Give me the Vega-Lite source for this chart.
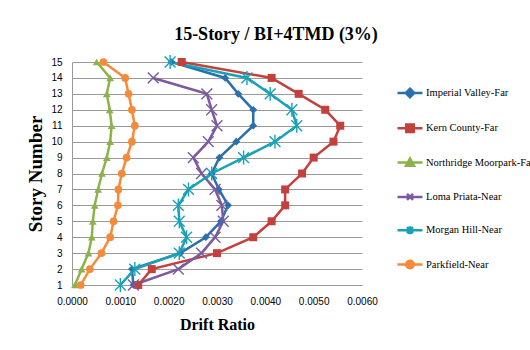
{
  "$schema": "https://vega.github.io/schema/vega-lite/v6.json",
  "width": 290,
  "height": 223,
  "autosize": "none",
  "padding": {"left": 72, "top": 62, "right": 168, "bottom": 65},
  "background": "white",
  "config": {
    "view": {"stroke": null},
    "legend": {
      "labelFont": "Liberation Serif",
      "labelFontSize": 10.5,
      "labelColor": "#000000",
      "labelLimit": 200,
      "symbolSize": 625,
      "symbolStrokeWidth": 2.5,
      "symbolOpacity": 1,
      "rowPadding": 11.3,
      "labelOffset": 2,
      "padding": 0
    }
  },
  "title": {
    "text": "15-Story / BI+4TMD (3%)",
    "font": "Liberation Serif",
    "fontSize": 18,
    "fontWeight": "bold",
    "color": "#000000",
    "anchor": "middle",
    "dx": 59,
    "offset": 8
  },
  "data": {
    "values": [
      {"series": "Imperial Valley-Far", "story": 1, "drift": 0.00127},
      {"series": "Imperial Valley-Far", "story": 2, "drift": 0.00124},
      {"series": "Imperial Valley-Far", "story": 3, "drift": 0.00224},
      {"series": "Imperial Valley-Far", "story": 4, "drift": 0.00277},
      {"series": "Imperial Valley-Far", "story": 5, "drift": 0.00308},
      {"series": "Imperial Valley-Far", "story": 6, "drift": 0.00323},
      {"series": "Imperial Valley-Far", "story": 7, "drift": 0.00304},
      {"series": "Imperial Valley-Far", "story": 8, "drift": 0.00289},
      {"series": "Imperial Valley-Far", "story": 9, "drift": 0.00305},
      {"series": "Imperial Valley-Far", "story": 10, "drift": 0.0034},
      {"series": "Imperial Valley-Far", "story": 11, "drift": 0.00375},
      {"series": "Imperial Valley-Far", "story": 12, "drift": 0.00375},
      {"series": "Imperial Valley-Far", "story": 13, "drift": 0.00344},
      {"series": "Imperial Valley-Far", "story": 14, "drift": 0.00317},
      {"series": "Imperial Valley-Far", "story": 15, "drift": 0.00206},
      {"series": "Kern County-Far", "story": 1, "drift": 0.00137},
      {"series": "Kern County-Far", "story": 2, "drift": 0.00165},
      {"series": "Kern County-Far", "story": 3, "drift": 0.003},
      {"series": "Kern County-Far", "story": 4, "drift": 0.00375},
      {"series": "Kern County-Far", "story": 5, "drift": 0.00413},
      {"series": "Kern County-Far", "story": 6, "drift": 0.00441},
      {"series": "Kern County-Far", "story": 7, "drift": 0.00441},
      {"series": "Kern County-Far", "story": 8, "drift": 0.00476},
      {"series": "Kern County-Far", "story": 9, "drift": 0.005},
      {"series": "Kern County-Far", "story": 10, "drift": 0.00541},
      {"series": "Kern County-Far", "story": 11, "drift": 0.00555},
      {"series": "Kern County-Far", "story": 12, "drift": 0.00524},
      {"series": "Kern County-Far", "story": 13, "drift": 0.00469},
      {"series": "Kern County-Far", "story": 14, "drift": 0.00413},
      {"series": "Kern County-Far", "story": 15, "drift": 0.00227},
      {"series": "Northridge Moorpark-Far", "story": 1, "drift": 0.00006},
      {"series": "Northridge Moorpark-Far", "story": 2, "drift": 0.0002},
      {"series": "Northridge Moorpark-Far", "story": 3, "drift": 0.00034},
      {"series": "Northridge Moorpark-Far", "story": 4, "drift": 0.00041},
      {"series": "Northridge Moorpark-Far", "story": 5, "drift": 0.00043},
      {"series": "Northridge Moorpark-Far", "story": 6, "drift": 0.00047},
      {"series": "Northridge Moorpark-Far", "story": 7, "drift": 0.00054},
      {"series": "Northridge Moorpark-Far", "story": 8, "drift": 0.00062},
      {"series": "Northridge Moorpark-Far", "story": 9, "drift": 0.00072},
      {"series": "Northridge Moorpark-Far", "story": 10, "drift": 0.00079},
      {"series": "Northridge Moorpark-Far", "story": 11, "drift": 0.00082},
      {"series": "Northridge Moorpark-Far", "story": 12, "drift": 0.00078},
      {"series": "Northridge Moorpark-Far", "story": 13, "drift": 0.00072},
      {"series": "Northridge Moorpark-Far", "story": 14, "drift": 0.00079},
      {"series": "Northridge Moorpark-Far", "story": 15, "drift": 0.00051},
      {"series": "Loma Priata-Near", "story": 1, "drift": 0.00127},
      {"series": "Loma Priata-Near", "story": 2, "drift": 0.0022},
      {"series": "Loma Priata-Near", "story": 3, "drift": 0.00268},
      {"series": "Loma Priata-Near", "story": 4, "drift": 0.00296},
      {"series": "Loma Priata-Near", "story": 5, "drift": 0.00313},
      {"series": "Loma Priata-Near", "story": 6, "drift": 0.0031},
      {"series": "Loma Priata-Near", "story": 7, "drift": 0.00296},
      {"series": "Loma Priata-Near", "story": 8, "drift": 0.00268},
      {"series": "Loma Priata-Near", "story": 9, "drift": 0.00251},
      {"series": "Loma Priata-Near", "story": 10, "drift": 0.00282},
      {"series": "Loma Priata-Near", "story": 11, "drift": 0.003},
      {"series": "Loma Priata-Near", "story": 12, "drift": 0.00289},
      {"series": "Loma Priata-Near", "story": 13, "drift": 0.00279},
      {"series": "Loma Priata-Near", "story": 14, "drift": 0.00168},
      {"series": "Morgan Hill-Near", "story": 1, "drift": 0.001},
      {"series": "Morgan Hill-Near", "story": 2, "drift": 0.0013},
      {"series": "Morgan Hill-Near", "story": 3, "drift": 0.00222},
      {"series": "Morgan Hill-Near", "story": 4, "drift": 0.00237},
      {"series": "Morgan Hill-Near", "story": 5, "drift": 0.00222},
      {"series": "Morgan Hill-Near", "story": 6, "drift": 0.0022},
      {"series": "Morgan Hill-Near", "story": 7, "drift": 0.00241},
      {"series": "Morgan Hill-Near", "story": 8, "drift": 0.00289},
      {"series": "Morgan Hill-Near", "story": 9, "drift": 0.00355},
      {"series": "Morgan Hill-Near", "story": 10, "drift": 0.0042},
      {"series": "Morgan Hill-Near", "story": 11, "drift": 0.00465},
      {"series": "Morgan Hill-Near", "story": 12, "drift": 0.00455},
      {"series": "Morgan Hill-Near", "story": 13, "drift": 0.0041},
      {"series": "Morgan Hill-Near", "story": 14, "drift": 0.00362},
      {"series": "Morgan Hill-Near", "story": 15, "drift": 0.00203},
      {"series": "Parkfield-Near", "story": 1, "drift": 0.00018},
      {"series": "Parkfield-Near", "story": 2, "drift": 0.00037},
      {"series": "Parkfield-Near", "story": 3, "drift": 0.00061},
      {"series": "Parkfield-Near", "story": 4, "drift": 0.00079},
      {"series": "Parkfield-Near", "story": 5, "drift": 0.00086},
      {"series": "Parkfield-Near", "story": 6, "drift": 0.00095},
      {"series": "Parkfield-Near", "story": 7, "drift": 0.00096},
      {"series": "Parkfield-Near", "story": 8, "drift": 0.00103},
      {"series": "Parkfield-Near", "story": 9, "drift": 0.00113},
      {"series": "Parkfield-Near", "story": 10, "drift": 0.00124},
      {"series": "Parkfield-Near", "story": 11, "drift": 0.0013},
      {"series": "Parkfield-Near", "story": 12, "drift": 0.00124},
      {"series": "Parkfield-Near", "story": 13, "drift": 0.00117},
      {"series": "Parkfield-Near", "story": 14, "drift": 0.0011},
      {"series": "Parkfield-Near", "story": 15, "drift": 0.00065}
    ]
  },
  "encoding": {
    "x": {
      "field": "drift",
      "type": "quantitative",
      "scale": {"domain": [0, 0.006], "nice": false, "zero": true},
      "axis": {
        "title": "Drift Ratio",
        "values": [0, 0.001, 0.002, 0.003, 0.004, 0.005, 0.006],
        "format": ".4f",
        "grid": false,
        "ticks": false,
        "domain": true,
        "domainColor": "#9a9a9a",
        "domainWidth": 1,
        "labelFont": "Liberation Sans",
        "labelFontSize": 10,
        "labelColor": "#000000",
        "labelPadding": 11,
        "labelOverlap": false,
        "labelFlush": false,
        "titleFont": "Liberation Serif",
        "titleFontSize": 16,
        "titleFontWeight": "bold",
        "titleColor": "#000000",
        "titlePadding": 10
      }
    },
    "y": {
      "field": "story",
      "type": "quantitative",
      "scale": {"domain": [1, 15], "nice": false, "zero": false},
      "axis": {
        "title": "Story Number",
        "values": [1, 2, 3, 4, 5, 6, 7, 8, 9, 10, 11, 12, 13, 14, 15],
        "format": "d",
        "grid": true,
        "gridColor": "#9a9a9a",
        "gridWidth": 1,
        "ticks": false,
        "domain": true,
        "domainColor": "#9a9a9a",
        "domainWidth": 1,
        "labelFont": "Liberation Sans",
        "labelFontSize": 10,
        "labelColor": "#000000",
        "labelPadding": 10,
        "labelOverlap": false,
        "titleFont": "Liberation Serif",
        "titleFontSize": 19,
        "titleFontWeight": "bold",
        "titleColor": "#000000",
        "titlePadding": 5
      }
    },
    "color": {
      "field": "series",
      "type": "nominal",
      "scale": {
        "domain": ["Imperial Valley-Far", "Kern County-Far", "Northridge Moorpark-Far", "Loma Priata-Near", "Morgan Hill-Near", "Parkfield-Near"],
        "range": ["#2a6fae", "#c4403d", "#8cb34a", "#7b5aa0", "#17a2b8", "#f58a3a"]
      },
      "legend": {
        "title": null,
        "orient": "none",
        "legendX": 324,
        "legendY": 17,
        "padding": 0,
        "symbolSize": 625,
        "symbolStrokeWidth": 2.5,
        "rowPadding": 11.3,
        "labelOffset": 2,
        "labelFont": "Liberation Serif",
        "labelFontSize": 10.5,
        "labelColor": "#000000",
        "labelLimit": 200,
        "encode": {
          "labels": {
            "update": {
              "font": {"value": "Liberation Serif"},
              "fontSize": {"value": 10.5},
              "fill": {"value": "#000000"}
            }
          },
          "symbols": {
            "update": {
              "fill": {"scale": "color", "field": "value"},
              "stroke": {"scale": "color", "field": "value"},
              "strokeWidth": {"value": 2.5},
              "opacity": {"value": 1},
              "size": {"value": 625},
              "shape": {"signal": "datum.value === 'Imperial Valley-Far' ? 'M-1,0L1,0M0,-0.34L0.34,0L0,0.34L-0.34,0Z' : datum.value === 'Kern County-Far' ? 'M-1,0L1,0M-0.3,-0.3L0.3,-0.3L0.3,0.3L-0.3,0.3Z' : datum.value === 'Northridge Moorpark-Far' ? 'M-1,0L1,0M0,-0.32L0.32,0.26L-0.32,0.26Z' : datum.value === 'Loma Priata-Near' ? 'M-1,0L1,0M-0.24,-0.24L0.24,0.24M-0.24,0.24L0.24,-0.24' : datum.value === 'Morgan Hill-Near' ? 'M-1,0L1,0M-0.24,-0.24L0.24,0.24M-0.24,0.24L0.24,-0.24M0,-0.32L0,0.32' : 'M-1,0L1,0M-0.3,0A0.3,0.3,0,1,0,0.3,0A0.3,0.3,0,1,0,-0.3,0Z'"}
            }
          }
        }
      }
    }
  },
  "layer": [
    {
      "mark": {"type": "line", "strokeWidth": 2.5},
      "encoding": {
        "order": {"field": "story", "type": "quantitative"}
      }
    },
    {
      "transform": [{"filter": {"field": "series", "equal": "Imperial Valley-Far"}}],
      "mark": {"type": "point", "shape": "diamond", "filled": true, "opacity": 1, "size": 60}
    },
    {
      "transform": [{"filter": {"field": "series", "equal": "Kern County-Far"}}],
      "mark": {"type": "point", "shape": "square", "filled": true, "opacity": 1, "size": 64}
    },
    {
      "transform": [{"filter": {"field": "series", "equal": "Northridge Moorpark-Far"}}],
      "mark": {"type": "point", "shape": "triangle-up", "filled": true, "opacity": 1, "size": 60}
    },
    {
      "transform": [{"filter": {"field": "series", "equal": "Loma Priata-Near"}}],
      "mark": {"type": "point", "shape": "M-1.4,-1.4L1.4,1.4M-1.4,1.4L1.4,-1.4", "filled": false, "opacity": 1, "size": 60, "strokeWidth": 1.4}
    },
    {
      "transform": [{"filter": {"field": "series", "equal": "Morgan Hill-Near"}}],
      "mark": {"type": "point", "shape": "M-1.4,-1.4L1.4,1.4M-1.4,1.4L1.4,-1.4M0,-1.8L0,1.8", "filled": false, "opacity": 1, "size": 60, "strokeWidth": 1.4}
    },
    {
      "transform": [{"filter": {"field": "series", "equal": "Parkfield-Near"}}],
      "mark": {"type": "point", "shape": "circle", "filled": true, "opacity": 1, "size": 60}
    }
  ]
}
